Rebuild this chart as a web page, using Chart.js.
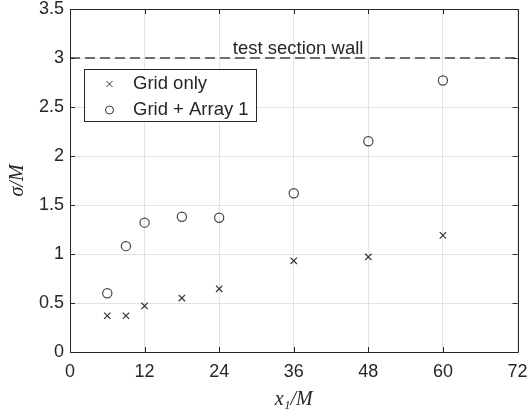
<!DOCTYPE html>
<html><head><meta charset="utf-8">
<script src="https://cdn.jsdelivr.net/npm/chart.js@4"></script>
<style>html,body{margin:0;padding:0;background:#fff}#wrap{width:531px;height:414px}</style>
</head><body><div id="wrap"><canvas id="c" width="531" height="414"></canvas></div>
<script>
const xPositions = [6, 9, 12, 18, 24, 36, 48, 60];
const gridOnly = [0.37, 0.37, 0.47, 0.55, 0.645, 0.93, 0.97, 1.19];
const gridArray1 = [0.60, 1.08, 1.32, 1.38, 1.37, 1.62, 2.15, 2.77];
const wallLevel = 3;
const xTicks = [0, 12, 24, 36, 48, 60, 72];
const yTicks = [0, 0.5, 1, 1.5, 2, 2.5, 3, 3.5];
const seriesNames = ['Grid only', 'Grid + Array 1'];
const wallLabel = 'test section wall';

const TXT = '#262626';
const SANS = 'Liberation Sans, Arial, sans-serif';
const tickFont = {family: SANS, size: 18};

const framePlugin = {
  id: 'frame',
  beforeDatasetsDraw(chart) {
    const {ctx, scales: {x, y}} = chart;
    ctx.save();
    ctx.fillStyle = TXT;
    ctx.font = '18.5px ' + SANS;
    ctx.textAlign = 'center';
    ctx.textBaseline = 'alphabetic';
    ctx.fillText(wallLabel, x.getPixelForValue(36.7), y.getPixelForValue(wallLevel) - 4);
    ctx.restore();
  },
  afterDatasetsDraw(chart) {
    const {ctx, chartArea: a, scales: {x, y}} = chart;
    ctx.save();
    ctx.strokeStyle = '#262626';
    ctx.lineWidth = 1;
    ctx.beginPath();
    ctx.rect(Math.round(a.left) + 0.5, Math.round(a.top) + 0.5, Math.round(a.right - a.left), Math.round(a.bottom - a.top));
    ctx.stroke();
    const L = 5;
    ctx.beginPath();
    xTicks.forEach(v => {
      const px = Math.round(x.getPixelForValue(v)) + 0.5;
      ctx.moveTo(px, a.bottom); ctx.lineTo(px, a.bottom - L);
      ctx.moveTo(px, a.top); ctx.lineTo(px, a.top + L);
    });
    yTicks.forEach(v => {
      const py = Math.round(y.getPixelForValue(v)) + 0.5;
      ctx.moveTo(a.left, py); ctx.lineTo(a.left + L, py);
      ctx.moveTo(a.right, py); ctx.lineTo(a.right - L, py);
    });
    ctx.stroke();
    // legend
    const bx = 84.5, by = 69.5, bw = 172, bh = 52;
    ctx.fillStyle = '#fff';
    ctx.fillRect(bx, by, bw, bh);
    ctx.strokeStyle = '#262626';
    ctx.strokeRect(bx, by, bw, bh);
    ctx.font = '18.5px ' + SANS;
    ctx.fillStyle = TXT;
    ctx.textAlign = 'left';
    ctx.textBaseline = 'middle';
    const rows = [by + 14.5, by + 40.5];
    const mx = 109.5;
    ctx.strokeStyle = '#333';
    ctx.beginPath();
    ctx.moveTo(mx - 3, rows[0] - 3); ctx.lineTo(mx + 3, rows[0] + 3);
    ctx.moveTo(mx + 3, rows[0] - 3); ctx.lineTo(mx - 3, rows[0] + 3);
    ctx.stroke();
    ctx.beginPath();
    ctx.arc(mx, rows[1], 4, 0, Math.PI * 2);
    ctx.stroke();
    ctx.fillText(seriesNames[0], 133, rows[0]);
    ctx.fillText(seriesNames[1], 133, rows[1]);
    ctx.restore();
  }
};

new Chart(document.getElementById('c'), {
  type: 'scatter',
  data: {
    datasets: [
      {
        label: 'wall',
        data: [{x: 0, y: wallLevel}, {x: 72, y: wallLevel}],
        showLine: true,
        borderColor: '#6e6e6e',
        borderWidth: 2,
        borderDash: [10, 5],
        pointRadius: 0,
        order: 3
      },
      {
        label: seriesNames[0],
        data: xPositions.map((v, i) => ({x: v, y: gridOnly[i]})),
        pointStyle: 'crossRot',
        pointRadius: 4.5,
        borderColor: '#333',
        borderWidth: 1.2,
        backgroundColor: 'transparent'
      },
      {
        label: seriesNames[1],
        data: xPositions.map((v, i) => ({x: v, y: gridArray1[i]})),
        pointStyle: 'circle',
        pointRadius: 4.6,
        borderColor: '#444',
        borderWidth: 1.2,
        backgroundColor: 'transparent'
      }
    ]
  },
  options: {
    responsive: false,
    animation: false,
    events: [],
    layout: {padding: {left: 0, right: 13.5, top: 9, bottom: 0}},
    plugins: {legend: {display: false}, tooltip: {enabled: false}},
    scales: {
      x: {
        type: 'linear', min: 0, max: 72,
        afterBuildTicks(s) { s.ticks = xTicks.map(v => ({value: v})); },
        afterFit(s) { s.height = 62; s.paddingLeft = 0; s.paddingRight = 0; },
        grid: {color: '#e3e3e3', drawTicks: false},
        border: {display: false},
        ticks: {color: TXT, font: tickFont, padding: 9, maxRotation: 0, callback: v => String(v)},
        title: {display: true, text: 'x₁/M', color: TXT,
          font: {family: 'Liberation Serif, DejaVu Serif, serif', size: 20, style: 'italic'}, padding: {top: 0, bottom: 2}}
      },
      y: {
        type: 'linear', min: 0, max: 3.5,
        afterBuildTicks(s) { s.ticks = yTicks.map(v => ({value: v})); },
        afterFit(s) { s.width = 70; s.paddingTop = 0; s.paddingBottom = 0; },
        grid: {color: '#e3e3e3', drawTicks: false},
        border: {display: false},
        ticks: {color: TXT, font: tickFont, padding: 6, callback: v => String(v)},
        title: {display: true, text: 'σ/M', color: TXT,
          font: {family: 'Liberation Serif, DejaVu Serif, serif', size: 20, style: 'italic'}, padding: {top: 6, bottom: 0}}
      }
    }
  },
  plugins: [framePlugin]
});
</script>
</body></html>
